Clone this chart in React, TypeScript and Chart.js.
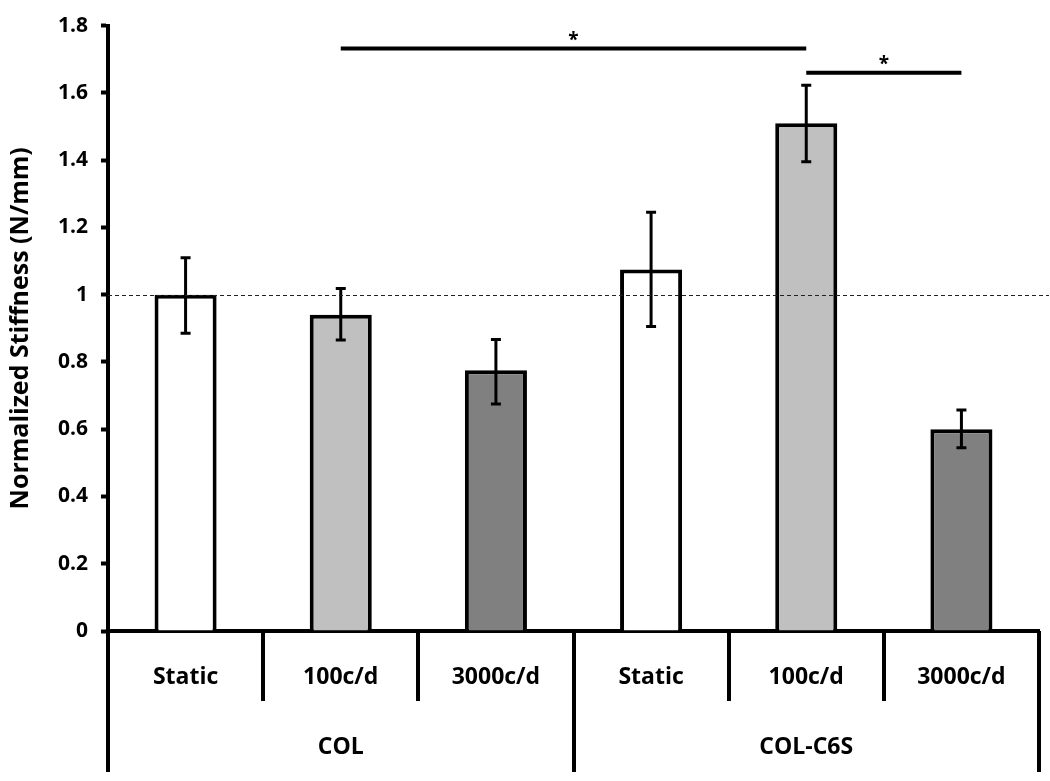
import React, { useEffect, useRef } from "react";
import { Chart, registerables } from "chart.js";

Chart.register(...registerables);

const categories = ["Static", "100c/d", "3000c/d", "Static", "100c/d", "3000c/d"];
const groups = ["COL", "COL-C6S"];
const groupSize = 3;
const means = [1.0, 0.94, 0.775, 1.075, 1.51, 0.6];
const errLow = [0.885, 0.865, 0.675, 0.905, 1.395, 0.545];
const errHigh = [1.11, 1.018, 0.867, 1.245, 1.623, 0.657];
const barColors = ["#ffffff", "#c0c0c0", "#808080", "#ffffff", "#c0c0c0", "#808080"];
const yTicks = [0, 0.2, 0.4, 0.6, 0.8, 1, 1.2, 1.4, 1.6, 1.8];
const refValue = 1.0;
const sigFrom = [1, 4];
const sigTo = [4, 5];
const sigLevel = [1.732, 1.66];
const sigLabel = ["*", "*"];

const FONT = "'Open Sans', sans-serif";

const overlayPlugin = {
  id: "overlay",
  afterDatasetsDraw(chart: any) {
    const { ctx, chartArea } = chart;
    const x = chart.scales.x;
    const y = chart.scales.y;
    ctx.save();
    ctx.strokeStyle = "#000";
    ctx.lineWidth = 3;
    for (let i = 0; i < means.length; i++) {
      const cx = x.getPixelForValue(i);
      const yl = y.getPixelForValue(errLow[i]);
      const yh = y.getPixelForValue(errHigh[i]);
      ctx.beginPath();
      ctx.moveTo(cx, yl);
      ctx.lineTo(cx, yh);
      ctx.moveTo(cx - 5, yl);
      ctx.lineTo(cx + 5, yl);
      ctx.moveTo(cx - 5, yh);
      ctx.lineTo(cx + 5, yh);
      ctx.stroke();
    }
    ctx.lineWidth = 1;
    ctx.strokeStyle = "#222";
    ctx.setLineDash([4, 3]);
    const ry = Math.round(y.getPixelForValue(refValue)) + 0.5;
    ctx.beginPath();
    ctx.moveTo(chartArea.left, ry);
    ctx.lineTo(chartArea.right + 10, ry);
    ctx.stroke();
    ctx.setLineDash([]);
    ctx.lineWidth = 4;
    ctx.strokeStyle = "#000";
    ctx.fillStyle = "#000";
    ctx.font = `bold 19px ${FONT}`;
    ctx.textAlign = "center";
    ctx.textBaseline = "middle";
    for (let i = 0; i < sigFrom.length; i++) {
      const x1 = x.getPixelForValue(sigFrom[i]);
      const x2 = x.getPixelForValue(sigTo[i]);
      const ly = y.getPixelForValue(sigLevel[i]);
      ctx.beginPath();
      ctx.moveTo(x1, ly);
      ctx.lineTo(x2, ly);
      ctx.stroke();
      ctx.fillText(sigLabel[i], (x1 + x2) / 2, ly - 8);
    }
    ctx.restore();
  },
  afterDraw(chart: any) {
    const { ctx } = chart;
    const x = chart.scales.x;
    const y = chart.scales.y;
    const y0 = y.getPixelForValue(0);
    const n = categories.length;
    const left = x.left;
    const w = (x.right - x.left) / n;
    ctx.save();
    ctx.strokeStyle = "#000";
    ctx.lineWidth = 4;
    for (let i = 0; i <= n; i++) {
      const sx = Math.round(left + i * w);
      const long = i % groupSize === 0;
      ctx.beginPath();
      ctx.moveTo(sx, y0);
      ctx.lineTo(sx, long ? 772 : 701);
      ctx.stroke();
    }
    ctx.fillStyle = "#000";
    ctx.textAlign = "center";
    ctx.textBaseline = "middle";
    ctx.font = `bold 23px ${FONT}`;
    for (let i = 0; i < n; i++) {
      ctx.fillText(categories[i], x.getPixelForValue(i), 677);
    }
    for (let g = 0; g < groups.length; g++) {
      const cx = left + (g * groupSize + groupSize / 2) * w;
      ctx.fillText(groups[g], cx, 747);
    }
    ctx.restore();
  },
};

export default function App() {
  const ref = useRef<HTMLCanvasElement>(null);
  useEffect(() => {
    document.body.style.margin = "0";
    const chart = new Chart(ref.current as HTMLCanvasElement, {
      type: "bar",
      data: {
        labels: categories,
        datasets: [
          {
            data: means,
            backgroundColor: barColors,
            borderColor: "#000",
            borderWidth: 4,
            barPercentage: 0.4,
            categoryPercentage: 1,
          },
        ],
      },
      options: {
        animation: false,
        responsive: false,
        maintainAspectRatio: false,
        layout: { padding: { top: 25, right: 11, left: 0, bottom: 0 } },
        plugins: { legend: { display: false }, tooltip: { enabled: false } },
        scales: {
          x: {
            type: "category",
            ticks: { display: false },
            grid: { display: false },
            border: { display: true, color: "#000", width: 4 },
            afterFit: (s: any) => {
              s.height = 150;
            },
          },
          y: {
            min: 0,
            max: 1.8,
            afterBuildTicks: (s: any) => {
              s.ticks = yTicks.map((v) => ({ value: v }));
            },
            ticks: {
              color: "#000",
              font: { family: FONT, weight: "bold", size: 21 },
              padding: 13,
              callback: (v: any) => String(Number(v.toFixed ? v.toFixed(1) : v)),
            },
            grid: {
              drawOnChartArea: false,
              drawTicks: true,
              tickLength: 7,
              tickWidth: 4,
              tickColor: "#000",
            },
            border: { display: true, color: "#000", width: 4 },
            title: {
              display: true,
              text: "Normalized Stiffness (N/mm)",
              color: "#000",
              font: { family: FONT, weight: "bold", size: 25 },
              padding: { top: 6, bottom: 0 },
            },
            afterFit: (s: any) => {
              s.width = 108;
            },
          },
        },
      },
      plugins: [overlayPlugin],
    });
    return () => chart.destroy();
  }, []);
  return (
    <div style={{ width: 1050, height: 781 }}>
      <canvas ref={ref} width={1050} height={781} style={{ display: "block" }} />
    </div>
  );
}
